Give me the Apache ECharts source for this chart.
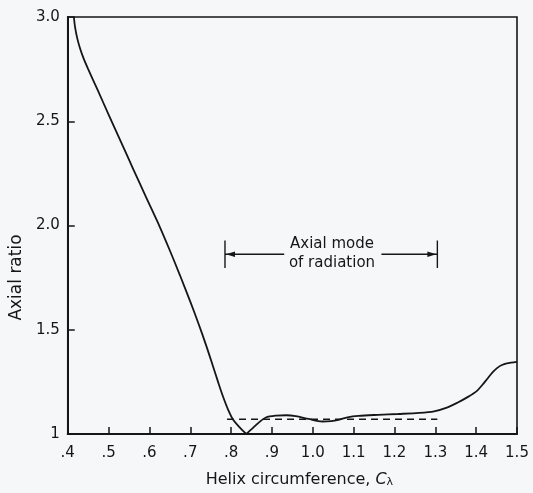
<!DOCTYPE html>
<html>
<head>
<meta charset="utf-8">
<script src="https://cdn.jsdelivr.net/npm/echarts@6/dist/echarts.min.js"></script>
<style>
  html, body { margin: 0; padding: 0; background: #f6f7f9; }
  #chart { width: 533px; height: 493px; }
</style>
</head>
<body>
<div id="chart"></div>
<script>
// Tick labels as printed on the axes
const xTickLabels = ['.4', '.5', '.6', '.7', '.8', '.9', '1.0', '1.1', '1.2', '1.3', '1.4', '1.5'];
const yTickLabels = ['1', '1.5', '2.0', '2.5', '3.0'];

// Axial ratio vs helix circumference: falling branch down to the minimum
const fallX = [0.415, 0.418, 0.423, 0.430, 0.439, 0.450, 0.472, 0.500, 0.530, 0.560, 0.590, 0.625, 0.650, 0.675, 0.700, 0.720, 0.738, 0.754, 0.768, 0.781, 0.793, 0.805, 0.821, 0.837];
const fallY = [3.000, 2.950, 2.900, 2.850, 2.800, 2.750, 2.655, 2.532, 2.402, 2.272, 2.143, 1.995, 1.880, 1.760, 1.635, 1.530, 1.430, 1.335, 1.250, 1.175, 1.115, 1.068, 1.032, 1.000];

// ...and the branch rising from the minimum to the end of the range
const riseX = [0.837, 0.853, 0.869, 0.885, 0.910, 0.935, 0.958, 0.990, 1.023, 1.045, 1.063, 1.085, 1.112, 1.160, 1.209, 1.260, 1.297, 1.330, 1.354, 1.380, 1.402, 1.415, 1.427, 1.439, 1.451, 1.463, 1.475, 1.500];
const riseY = [1.000, 1.028, 1.057, 1.079, 1.088, 1.090, 1.086, 1.072, 1.060, 1.062, 1.068, 1.080, 1.087, 1.092, 1.096, 1.101, 1.109, 1.128, 1.150, 1.178, 1.207, 1.235, 1.264, 1.293, 1.316, 1.331, 1.339, 1.346];

// Dashed reference level across the axial-mode band
const refLineX = [0.79, 1.305];
const refLineY = 1.071;

// "Axial mode of radiation" bracket (data units)
const modeRange = [0.785, 1.305];
const modeArrowY = 1.862;
const modeBarHalf = 0.066;
const modeGap = [0.930, 1.168];
const modeText = ['Axial mode', 'of radiation'];
const modeTextX = 1.047;
const modeTextY = [1.910, 1.822];

const ink = '#161616';
const font = 'DejaVu Sans';

const pairs = (xs, ys) => xs.map((x, i) => [x, ys[i]]);

function renderMode(params, api) {
  const L = api.coord([modeRange[0], modeArrowY]);
  const R = api.coord([modeRange[1], modeArrowY]);
  const gL = api.coord([modeGap[0], modeArrowY]);
  const gR = api.coord([modeGap[1], modeArrowY]);
  const top = api.coord([modeRange[0], modeArrowY + modeBarHalf])[1];
  const bot = api.coord([modeRange[0], modeArrowY - modeBarHalf])[1];
  const t1 = api.coord([modeTextX, modeTextY[0]]);
  const t2 = api.coord([modeTextX, modeTextY[1]]);
  const stroke = { stroke: ink, lineWidth: 1.4, fill: null };
  const head = 9, hw = 2.8;
  const textStyle = (s) => ({ text: s, fill: ink, fontSize: 15, fontFamily: font, align: 'center', verticalAlign: 'middle' });
  return {
    type: 'group',
    children: [
      { type: 'line', shape: { x1: L[0], y1: top, x2: L[0], y2: bot }, style: stroke },
      { type: 'line', shape: { x1: R[0], y1: top, x2: R[0], y2: bot }, style: stroke },
      { type: 'line', shape: { x1: L[0], y1: L[1], x2: gL[0], y2: L[1] }, style: stroke },
      { type: 'line', shape: { x1: gR[0], y1: R[1], x2: R[0], y2: R[1] }, style: stroke },
      { type: 'polygon', shape: { points: [[L[0] + 1, L[1]], [L[0] + 1 + head, L[1] - hw], [L[0] + 1 + head, L[1] + hw]] }, style: { fill: ink } },
      { type: 'polygon', shape: { points: [[R[0] - 1, R[1]], [R[0] - 1 - head, R[1] - hw], [R[0] - 1 - head, R[1] + hw]] }, style: { fill: ink } },
      { type: 'text', x: t1[0], y: t1[1], style: textStyle(modeText[0]) },
      { type: 'text', x: t2[0], y: t2[1], style: textStyle(modeText[1]) }
    ]
  };
}

const chart = echarts.init(document.getElementById('chart'), null, { renderer: 'canvas' });
chart.setOption({
  animation: false,
  backgroundColor: '#f6f7f9',
  grid: {
    left: 62, right: 16, top: 17, bottom: 52,
    show: true, borderColor: ink, borderWidth: 1.6, backgroundColor: 'transparent'
  },
  xAxis: {
    type: 'value', min: 0.4, max: 1.5, interval: 0.1,
    axisLine: { show: true, lineStyle: { color: ink, width: 2 } },
    axisTick: { show: true, inside: true, length: 7, lineStyle: { color: ink, width: 1.5 } },
    splitLine: { show: false },
    axisLabel: {
      margin: 12, color: ink, fontSize: 15, fontFamily: font,
      formatter: (v) => xTickLabels[Math.round((v - 0.4) / 0.1)]
    },
    name: 'Helix circumference, {c|C}{s|λ}',
    nameLocation: 'middle', nameGap: 37,
    nameTextStyle: {
      color: ink, fontSize: 16, fontFamily: font, padding: [0, 0, 0, 14],
      rich: {
        c: { fontStyle: 'italic', fontSize: 16, fontFamily: font, color: ink },
        s: { fontSize: 11, fontFamily: font, color: ink, verticalAlign: 'bottom', padding: [6, 0, 0, 0] }
      }
    }
  },
  yAxis: {
    type: 'value', min: 1, max: 3, interval: 0.5,
    axisLine: { show: true, lineStyle: { color: ink, width: 2 } },
    axisTick: { show: true, inside: true, length: 7, lineStyle: { color: ink, width: 1.5 } },
    splitLine: { show: false },
    axisLabel: {
      margin: 8, color: ink, fontSize: 15, fontFamily: font,
      formatter: (v) => yTickLabels[Math.round((v - 1) / 0.5)]
    },
    name: 'Axial ratio',
    nameLocation: 'middle', nameGap: 36,
    nameTextStyle: { color: ink, fontSize: 17, fontFamily: font, padding: [0, 104, 0, 0] }
  },
  series: [
    {
      name: 'Axial ratio (falling)', type: 'line', data: pairs(fallX, fallY),
      smooth: 0.3, showSymbol: false, silent: true,
      lineStyle: { color: ink, width: 1.8 }
    },
    {
      name: 'Axial ratio (rising)', type: 'line', data: pairs(riseX, riseY),
      smooth: 0.3, showSymbol: false, silent: true,
      lineStyle: { color: ink, width: 1.8 }
    },
    {
      name: 'Reference level', type: 'line',
      data: [[refLineX[0], refLineY], [refLineX[1], refLineY]],
      showSymbol: false, silent: true,
      lineStyle: { color: ink, width: 1.5, type: [7, 5] }
    },
    {
      name: 'Axial mode band', type: 'custom', silent: true, clip: false,
      data: [[modeTextX, modeArrowY]], encode: { x: 0, y: 1 },
      renderItem: renderMode
    }
  ]
});
</script>
</body>
</html>
